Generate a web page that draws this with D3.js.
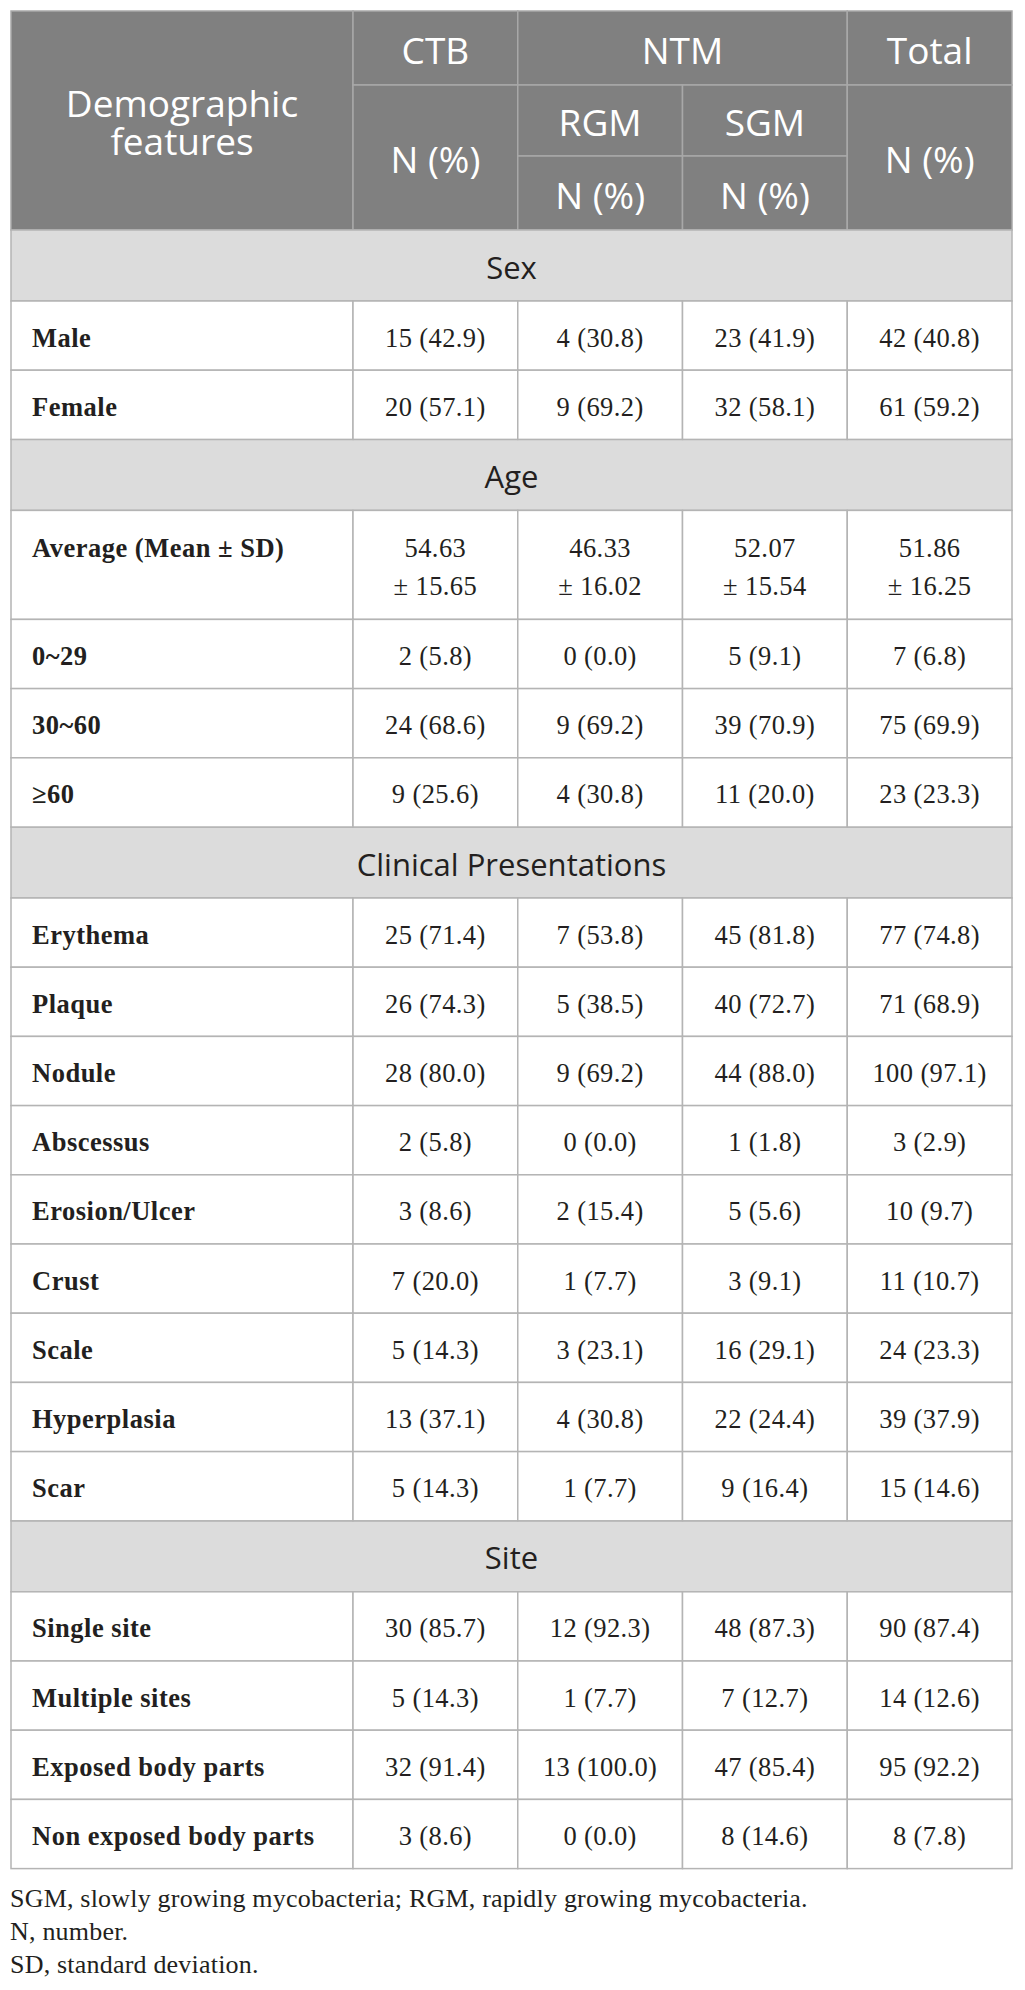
<!DOCTYPE html>
<html lang="en">
<head>
    <meta charset="UTF-8">
    <title>Demographic features - table</title>
    <script src="https://d3js.org/d3.v7.min.js"></script>
    <style>
        body { margin: 0; background: #fff; }
    </style>
</head>
<body>
    <script>
        var groups = ["CTB", "RGM", "SGM", "Total"];
        var sectionNames = ["Sex", "Age", "Clinical Presentations", "Site"];
        var rowLabels = [
            ["Male", "Female"],
            ["Average (Mean ± SD)", "0~29", "30~60", "≥60"],
            ["Erythema", "Plaque", "Nodule", "Abscessus", "Erosion/Ulcer", "Crust", "Scale", "Hyperplasia", "Scar"],
            ["Single site", "Multiple sites", "Exposed body parts", "Non exposed body parts"]
        ];
        // age mean / sd per group
        var ageMean = [54.63, 46.33, 52.07, 51.86];
        var ageSD = [15.65, 16.02, 15.54, 16.25];
        // counts and percents, one entry per count row (Average row left out)
        var ctbN   = [15, 20, 2, 24, 9, 25, 26, 28, 2, 3, 7, 5, 13, 5, 30, 5, 32, 3];
        var ctbPct = [42.9, 57.1, 5.8, 68.6, 25.6, 71.4, 74.3, 80.0, 5.8, 8.6, 20.0, 14.3, 37.1, 14.3, 85.7, 14.3, 91.4, 8.6];
        var rgmN   = [4, 9, 0, 9, 4, 7, 5, 9, 0, 2, 1, 3, 4, 1, 12, 1, 13, 0];
        var rgmPct = [30.8, 69.2, 0.0, 69.2, 30.8, 53.8, 38.5, 69.2, 0.0, 15.4, 7.7, 23.1, 30.8, 7.7, 92.3, 7.7, 100.0, 0.0];
        var sgmN   = [23, 32, 5, 39, 11, 45, 40, 44, 1, 5, 3, 16, 22, 9, 48, 7, 47, 8];
        var sgmPct = [41.9, 58.1, 9.1, 70.9, 20.0, 81.8, 72.7, 88.0, 1.8, 5.6, 9.1, 29.1, 24.4, 16.4, 87.3, 12.7, 85.4, 14.6];
        var totN   = [42, 61, 7, 75, 23, 77, 71, 100, 3, 10, 11, 24, 39, 15, 90, 14, 95, 8];
        var totPct = [40.8, 59.2, 6.8, 69.9, 23.3, 74.8, 68.9, 97.1, 2.9, 9.7, 10.7, 23.3, 37.9, 14.6, 87.4, 12.6, 92.2, 7.8];
        var footnotes = [
            "SGM, slowly growing mycobacteria; RGM, rapidly growing mycobacteria.",
            "N, number.",
            "SD, standard deviation."
        ];

        // ---- layout ----
        var width = 1025;
        var height = 1990;
        var left = 11, right = 1012, topY = 11;
        var labelW = 342;
        var headRows = [74, 71, 74];
        var sectionH = 71, rowH = 69.2, avgH = 109;

        var sans = "'Open Sans', 'Noto Sans', sans-serif";
        var serif = "'Liberation Serif', 'DejaVu Serif', serif";
        var ink = "#231f20";
        var grid = "#b4b4b4";
        var headFill = "#808080";
        var headLine = "#a8a8a8";
        var secFill = "#dcdcdc";

        var f1 = d3.format(".1f");
        var f2 = d3.format(".2f");

        var svg = d3.select("body").append("svg")
            .attr("width", width)
            .attr("height", height);

        // x positions of the 4 value columns
        var x = d3.scaleBand().domain(groups).range([left + labelW, right]);
        var headY = d3.scaleOrdinal().domain([0, 1, 2, 3])
            .range([topY, topY + headRows[0], topY + headRows[0] + headRows[1], topY + d3.sum(headRows)]);

        // ---- header ----
        var header = svg.append("g");
        var hCells = [
            {x0: left, x1: left + labelW, r0: 0, r1: 3, text: ["Demographic", "features"]},
            {x0: x("CTB"), x1: x("CTB") + x.bandwidth(), r0: 0, r1: 1, text: ["CTB"]},
            {x0: x("CTB"), x1: x("CTB") + x.bandwidth(), r0: 1, r1: 3, text: ["N (%)"]},
            {x0: x("RGM"), x1: x("SGM") + x.bandwidth(), r0: 0, r1: 1, text: ["NTM"]},
            {x0: x("RGM"), x1: x("RGM") + x.bandwidth(), r0: 1, r1: 2, text: ["RGM"]},
            {x0: x("SGM"), x1: x("SGM") + x.bandwidth(), r0: 1, r1: 2, text: ["SGM"]},
            {x0: x("RGM"), x1: x("RGM") + x.bandwidth(), r0: 2, r1: 3, text: ["N (%)"]},
            {x0: x("SGM"), x1: x("SGM") + x.bandwidth(), r0: 2, r1: 3, text: ["N (%)"]},
            {x0: x("Total"), x1: right, r0: 0, r1: 1, text: ["Total"]},
            {x0: x("Total"), x1: right, r0: 1, r1: 3, text: ["N (%)"]}
        ];
        header.selectAll("rect")
            .data(hCells)
            .join("rect")
            .attr("x", d => d.x0)
            .attr("y", d => headY(d.r0))
            .attr("width", d => d.x1 - d.x0)
            .attr("height", d => headY(d.r1) - headY(d.r0))
            .attr("fill", headFill)
            .attr("stroke", headLine)
            .attr("stroke-width", 1.5);

        header.selectAll("text")
            .data(hCells)
            .join("text")
            .attr("fill", "#fff")
            .attr("text-anchor", "middle")
            .style("font-family", sans)
            .style("font-size", "37px")
            .selectAll("tspan")
            .data(d => d.text.map((t, i) => ({t: t, i: i, d: d})))
            .join("tspan")
            .attr("x", d => (d.d.x0 + d.d.x1) / 2)
            .attr("y", d => (headY(d.d.r0) + headY(d.d.r1)) / 2 + 1 - (d.d.text.length - 1) * 19 + d.i * 38)
            .attr("dominant-baseline", "central")
            .text(d => d.t);

        // ---- body rows ----
        var rows = [];
        var k = 0;
        var yPos = headY(3);
        sectionNames.forEach(function (s, si) {
            rows.push({type: "section", label: s, y: yPos, h: sectionH});
            yPos += sectionH;
            rowLabels[si].forEach(function (lab) {
                if (lab.indexOf("Average") === 0) {
                    rows.push({type: "avg", label: lab, y: yPos, h: avgH,
                        cells: groups.map((g, j) => [f2(ageMean[j]), "± " + f2(ageSD[j])])});
                    yPos += avgH;
                } else {
                    var cnt = [ctbN[k], rgmN[k], sgmN[k], totN[k]];
                    var pct = [ctbPct[k], rgmPct[k], sgmPct[k], totPct[k]];
                    rows.push({type: "row", label: lab, y: yPos, h: rowH,
                        cells: groups.map((g, j) => [cnt[j] + " (" + f1(pct[j]) + ")"])});
                    yPos += rowH;
                    k++;
                }
            });
        });

        var body = svg.append("g");
        var sec = body.selectAll("g.section")
            .data(rows.filter(r => r.type === "section"))
            .join("g").attr("class", "section");
        sec.append("rect")
            .attr("x", left).attr("y", d => d.y)
            .attr("width", right - left).attr("height", d => d.h)
            .attr("fill", secFill).attr("stroke", grid).attr("stroke-width", 1.5);
        sec.append("text")
            .attr("x", (left + right) / 2)
            .attr("y", d => d.y + d.h / 2 + 1)
            .attr("text-anchor", "middle")
            .attr("dominant-baseline", "central")
            .attr("fill", ink)
            .style("font-family", sans)
            .style("font-size", "31px")
            .text(d => d.label);

        var dr = body.selectAll("g.row")
            .data(rows.filter(r => r.type !== "section"))
            .join("g").attr("class", "row");
        dr.append("rect")
            .attr("x", left).attr("y", d => d.y)
            .attr("width", labelW).attr("height", d => d.h)
            .attr("fill", "#fff").attr("stroke", grid).attr("stroke-width", 1.5);
        dr.append("text")
            .attr("x", left + 21)
            .attr("y", d => d.type === "avg" ? d.y + 38 : d.y + d.h / 2 + 2)
            .attr("dominant-baseline", "central")
            .attr("fill", ink)
            .style("font-family", serif)
            .style("font-weight", "bold")
            .style("font-size", "26.5px")
            .style("letter-spacing", "0.5px")
            .text(d => d.label);

        var cell = dr.selectAll("g.cell")
            .data(d => d.cells.map((c, j) => ({g: groups[j], lines: c, row: d})))
            .join("g").attr("class", "cell");
        cell.append("rect")
            .attr("x", d => x(d.g)).attr("y", d => d.row.y)
            .attr("width", x.bandwidth()).attr("height", d => d.row.h)
            .attr("fill", "#fff").attr("stroke", grid).attr("stroke-width", 1.5);
        cell.append("text")
            .attr("text-anchor", "middle")
            .attr("fill", ink)
            .style("font-family", serif)
            .style("font-size", "26.5px")
            .style("letter-spacing", "0.4px")
            .selectAll("tspan")
            .data(d => d.lines.map((t, i) => ({t: t, i: i, d: d})))
            .join("tspan")
            .attr("x", d => x(d.d.g) + x.bandwidth() / 2)
            .attr("y", d => d.d.row.type === "avg" ? d.d.row.y + 38 + d.i * 38 : d.d.row.y + d.d.row.h / 2 + 2)
            .attr("dominant-baseline", "central")
            .text(d => d.t);

        // ---- footnotes ----
        svg.append("g").selectAll("text")
            .data(footnotes)
            .join("text")
            .attr("x", left - 1)
            .attr("y", (d, i) => yPos + 38 + i * 33)
            .attr("fill", ink)
            .style("font-family", serif)
            .style("font-size", "26px")
            .style("letter-spacing", "0.2px")
            .text(d => d);
    </script>
</body>
</html>
